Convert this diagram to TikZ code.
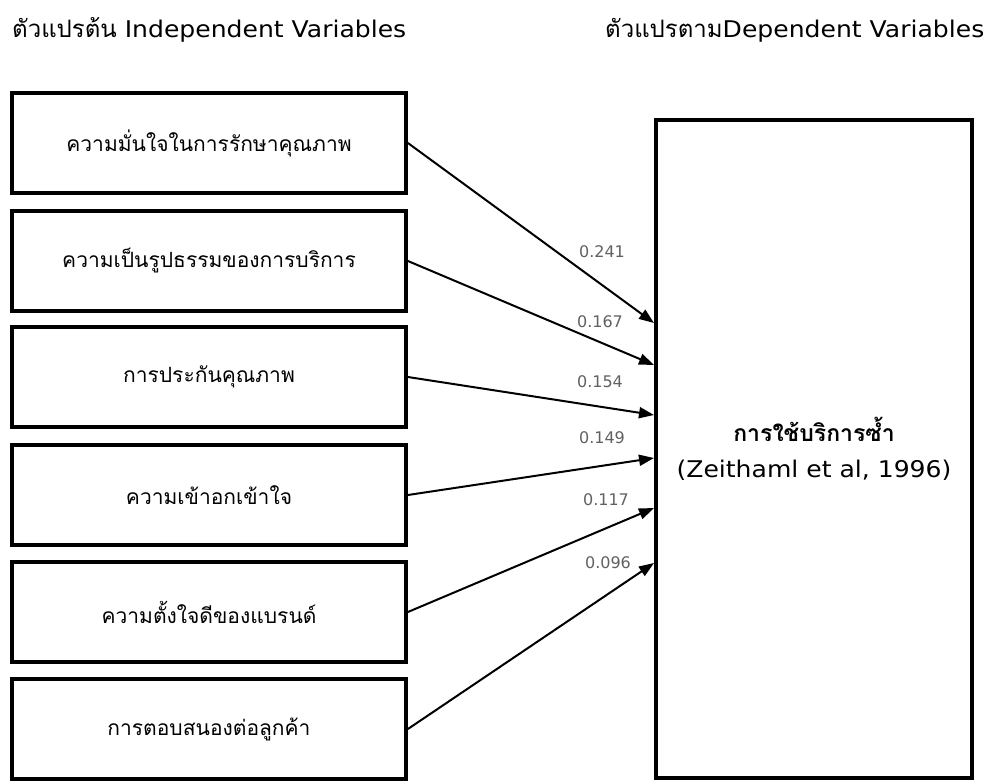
\documentclass[tikz,border=0pt]{standalone}
\usepackage{fontspec}
\newfontfamily\thai[Script=Thai]{Loma}
\newfontfamily\numf{DejaVu Sans}
\newfontfamily\widef[FakeStretch=1.09]{DejaVu Sans}
\usetikzlibrary{arrows.meta}
\begin{document}
\begin{tikzpicture}[x=1pt,y=-1pt,
  ivbox/.style={draw, line width=3.8pt, minimum width=394pt, minimum height=100pt, inner sep=0pt, font=\thai\fontsize{21}{24}\selectfont},
  dvbox/.style={draw, line width=3.2pt, minimum width=316pt, minimum height=658pt, inner sep=0pt, align=center, font=\widef\fontsize{23}{36}\selectfont},
  link/.style={line width=2pt, -{Triangle[length=15pt,width=11pt]}},
  coef/.style={font=\numf\fontsize{16}{18}\selectfont, text=black!62, inner sep=0pt},
  hdr/.style={font=\widef\fontsize{23}{26}\selectfont, anchor=west, inner sep=0pt}]
\useasboundingbox[fill=white] (0,0) rectangle (989,782);
\node[hdr] (h1) at (12,30) {{\thai\fontsize{24}{26}\selectfont ตัวแปรต้น} Independent Variables};
\node[hdr] (h2) at (605,30) {{\thai\fontsize{24}{26}\selectfont ตัวแปรตาม}Dependent Variables};
\node[ivbox] (v1) at (209,143) {ความมั่นใจในการรักษาคุณภาพ};
\node[ivbox] (v2) at (209,261) {ความเป็นรูปธรรมของการบริการ};
\node[ivbox] (v3) at (209,377) {การประกันคุณภาพ};
\node[ivbox] (v4) at (209,495) {ความเข้าอกเข้าใจ};
\node[ivbox] (v5) at (209,612) {ความตั้งใจดีของแบรนด์};
\node[ivbox] (v6) at (209,729) {การตอบสนองต่อลูกค้า};
\node[dvbox] (dv) at (814,449) {{\thai\bfseries\fontsize{23}{36}\selectfont การใช้บริการซ้ำ}\\(Zeithaml et al, 1996)};
\coordinate (t1) at (654,323);
\coordinate (t2) at (654,365);
\coordinate (t3) at (654,415);
\coordinate (t4) at (654,458);
\coordinate (t5) at (654,508);
\coordinate (t6) at (654,563);
\draw[link] (v1.east) -- (t1);
\draw[link] (v2.east) -- (t2);
\draw[link] (v3.east) -- (t3);
\draw[link] (v4.east) -- (t4);
\draw[link] (v5.east) -- (t5);
\draw[link] (v6.east) -- (t6);
\node[coef] (c1) at (602,252) {0.241};
\node[coef] (c2) at (600,322) {0.167};
\node[coef] (c3) at (600,382) {0.154};
\node[coef] (c4) at (602,438) {0.149};
\node[coef] (c5) at (606,500) {0.117};
\node[coef] (c6) at (608,563) {0.096};
\end{tikzpicture}
\end{document}
